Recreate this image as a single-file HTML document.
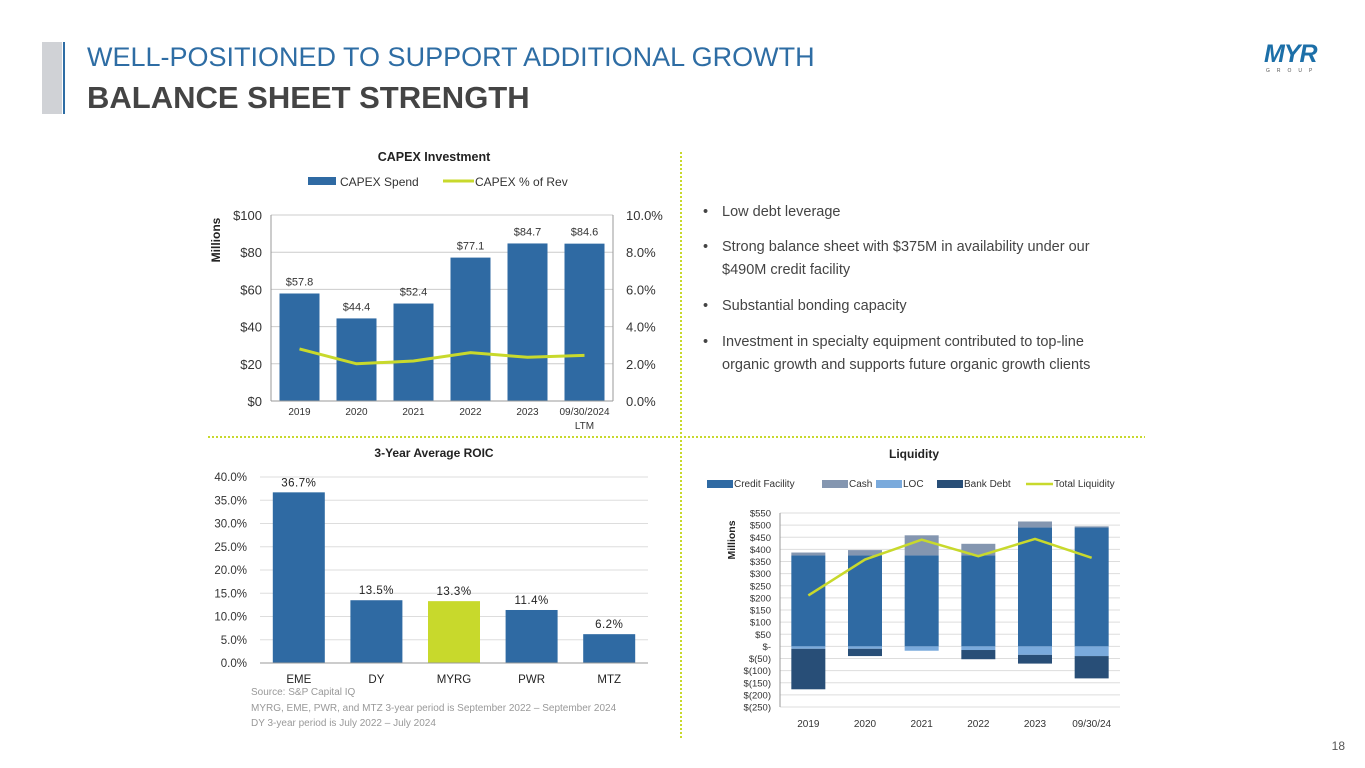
<!DOCTYPE html>
<html><head><meta charset="utf-8"><style>
body{margin:0;width:1365px;height:768px;background:#fff;font-family:"Liberation Sans",sans-serif;overflow:hidden;position:relative}
svg{position:absolute;left:0;top:0}
</style></head><body>
<svg id="s" width="1365" height="768" viewBox="0 0 1365 768" font-family="Liberation Sans, sans-serif">
<rect x="42" y="42" width="20" height="72" fill="#d0d2d6"/>
<line x1="64" y1="42" x2="64" y2="114" stroke="#2e6da4" stroke-width="2"/>
<text x="87" y="66" font-size="27" fill="#2e6da4">WELL-POSITIONED TO SUPPORT ADDITIONAL GROWTH</text>
<text x="87" y="108" font-size="31" font-weight="bold" fill="#444">BALANCE SHEET STRENGTH</text>
<g>
<text x="1264" y="62" font-size="25" font-weight="bold" fill="#1c6fa8" font-style="italic" letter-spacing="-1">MYR</text>
<text x="1266" y="72" font-size="5" fill="#555" letter-spacing="7">GROUP</text>
</g>
<text x="1345" y="750" font-size="12" fill="#555" text-anchor="end">18</text>
<line x1="681" y1="152" x2="681" y2="738" stroke="#c8d92c" stroke-width="2" stroke-dasharray="2,2"/>
<line x1="208" y1="437" x2="1145" y2="437" stroke="#c8d92c" stroke-width="2" stroke-dasharray="2,2"/>
<g font-size="14.5" fill="#444">
<text x="703" y="216">•</text><text x="722" y="216">Low debt leverage</text>
<text x="703" y="251">•</text><text x="722" y="251">Strong balance sheet with $375M in availability under our</text><text x="722" y="274">$490M credit facility</text>
<text x="703" y="310">•</text><text x="722" y="310">Substantial bonding capacity</text>
<text x="703" y="346">•</text><text x="722" y="346">Investment in specialty equipment contributed to top-line</text><text x="722" y="369">organic growth and supports future organic growth clients</text>
</g>
<g id="capex"></g><g id="roic"></g><g id="liq"></g>
<g font-size="10" fill="#999">
<text x="251" y="695">Source: S&amp;P Capital IQ</text>
<text x="251" y="711">MYRG, EME, PWR, and MTZ 3-year period is September 2022 – September 2024</text>
<text x="251" y="726">DY 3-year period is July 2022 – July 2024</text>
</g>
</svg>
<script>
const capexCats=["2019","2020","2021","2022","2023","09/30/2024"];
const capexSpend=[57.8,44.4,52.4,77.1,84.7,84.6];
const capexPct=[2.8,2.0,2.15,2.6,2.35,2.45];
const capexTicks=[0,20,40,60,80,100];
const roicCats=["EME","DY","MYRG","PWR","MTZ"];
const roicVals=[36.7,13.5,13.3,11.4,6.2];
const roicTicks=[0,5,10,15,20,25,30,35,40];
const liqCats=["2019","2020","2021","2022","2023","09/30/24"];
const liqCredit=[375,375,375,375,490,490];
const liqCash=[12,22,83,48,25,5];
const liqLOC=[-10,-10,-18,-15,-35,-40];
const liqBank=[-167,-30,0,-38,-36,-92];
const liqTotal=[210,358,440,372,443,365];
const liqTicks=[550,500,450,400,350,300,250,200,150,100,50,0,-50,-100,-150,-200,-250];
const NS="http://www.w3.org/2000/svg";
function el(p,t,a,txt){const e=document.createElementNS(NS,t);for(const k in a)e.setAttribute(k,a[k]);if(txt!==undefined)e.textContent=txt;p.appendChild(e);return e;}
const BLUE="#2f6aa3",LIME="#c8d92c";
// CAPEX
(function(){
const g=document.getElementById('capex');
const x0=271,x1=613,y0=401,y1=215,n=capexCats.length,bw=(x1-x0)/n;
const y=v=>y0-(v/100)*(y0-y1), yp=v=>y0-(v/10)*(y0-y1), xc=i=>x0+bw*(i+.5);
let t=el(g,'text',{x:434,y:161,'font-size':12.5,'font-weight':'bold','text-anchor':'middle',fill:'#222'},'CAPEX Investment');

let r=el(g,'rect',{x:308,y:177,width:28,height:8,fill:BLUE});
el(g,'text',{x:340,y:186,'font-size':12,fill:'#333'},'CAPEX Spend');
let l=el(g,'line',{x1:443,y1:181,x2:474,y2:181,stroke:LIME,'stroke-width':3});
el(g,'text',{x:475,y:186,'font-size':12,fill:'#333'},'CAPEX % of Rev');
capexTicks.forEach(v=>{
 el(g,'line',{x1:x0,x2:x1,y1:y(v),y2:y(v),stroke:'#ccc'});
 let a=el(g,'text',{x:x0-9,y:y(v)+5,'font-size':13,'text-anchor':'end',fill:'#333'},'$'+v);
 let b=el(g,'text',{x:x1+13,y:y(v)+5,'font-size':13,fill:'#333'},(v/10).toFixed(1)+'%');
});
let yt=el(g,'text',{x:0,y:0,'font-size':12,'font-weight':'bold',fill:'#222','text-anchor':'middle',transform:'translate(220,240) rotate(-90)'},'Millions');

capexSpend.forEach((v,i)=>{
 let b=el(g,'rect',{x:xc(i)-20,y:y(v),width:40,height:y0-y(v),fill:BLUE});
 el(g,'text',{x:xc(i),y:y(v)-8,'font-size':11,'text-anchor':'middle',fill:'#333'},'$'+v.toFixed(1));
 el(g,'text',{x:xc(i),y:y0+14,'font-size':10,'text-anchor':'middle',fill:'#333'},capexCats[i]);
});
el(g,'text',{x:xc(5),y:y0+28,'font-size':10,'text-anchor':'middle',fill:'#333'},'LTM');
el(g,'line',{x1:x0,x2:x0,y1:y1,y2:y0,stroke:'#999'});el(g,'line',{x1:x1,x2:x1,y1:y1,y2:y0,stroke:'#999'});el(g,'line',{x1:x0,x2:x1,y1:y0,y2:y0,stroke:'#999'});
let p=el(g,'polyline',{points:capexPct.map((v,i)=>xc(i)+','+yp(v)).join(' '),fill:'none',stroke:LIME,'stroke-width':3});

})();
// ROIC
(function(){
const g=document.getElementById('roic');
const x0=260,x1=648,y0=663,y1=477,n=roicCats.length,bw=(x1-x0)/n;
const y=v=>y0-(v/40)*(y0-y1), xc=i=>x0+bw*(i+.5);
let t=el(g,'text',{x:434,y:457,'font-size':12,'font-weight':'bold','text-anchor':'middle',fill:'#222'},'3-Year Average ROIC');

roicTicks.forEach(v=>{
 el(g,'line',{x1:x0,x2:x1,y1:y(v),y2:y(v),stroke:'#ddd'});
 let a=el(g,'text',{x:x0-13,y:y(v)+4,'font-size':11.5,'text-anchor':'end',fill:'#333'},v.toFixed(1)+'%');
});
roicVals.forEach((v,i)=>{
 let b=el(g,'rect',{x:xc(i)-26,y:y(v),width:52,height:y0-y(v),fill:roicCats[i]==='MYRG'?LIME:BLUE});
 el(g,'text',{x:xc(i),y:y(v)-6,'font-size':11.5,'text-anchor':'middle',fill:'#222','letter-spacing':'0.5'},v.toFixed(1)+'%');
 el(g,'text',{x:xc(i),y:y0+20,'font-size':11.5,'text-anchor':'middle',fill:'#222'},roicCats[i]);
});
el(g,'line',{x1:x0,x2:x1,y1:y0,y2:y0,stroke:'#999'});
})();
// Liquidity
(function(){
const g=document.getElementById('liq');
const x0=780,x1=1120,yTop=513,yBot=707,n=liqCats.length,bw=(x1-x0)/n;
const y=v=>yTop+(550-v)/800*(yBot-yTop), xc=i=>x0+bw*(i+.5);
let t=el(g,'text',{x:914,y:458,'font-size':12,'font-weight':'bold','text-anchor':'middle',fill:'#222'},'Liquidity');

const leg=[["Credit Facility",BLUE,707],["Cash","#8496b0",822],["LOC","#7aaadc",876],["Bank Debt","#284e77",937]];
leg.forEach(d=>{let r=el(g,'rect',{x:d[2],y:480,width:26,height:8,fill:d[1]});
 el(g,'text',{x:d[2]+27,y:487,'font-size':10,fill:'#333'},d[0]);});
let ll=el(g,'line',{x1:1026,y1:484,x2:1053,y2:484,stroke:LIME,'stroke-width':2.5});
el(g,'text',{x:1054,y:487,'font-size':10,fill:'#333'},'Total Liquidity');
liqTicks.forEach(v=>{
 el(g,'line',{x1:x0,x2:x1,y1:y(v),y2:y(v),stroke:'#ddd'});
 const s=v===0?'$-':(v<0?'$('+(-v)+')':'$'+v);
 let a=el(g,'text',{x:x0-9,y:y(v)+3.5,'font-size':9.5,'text-anchor':'end',fill:'#333'},s);
});
let yt=el(g,'text',{x:0,y:0,'font-size':10.5,'font-weight':'bold',fill:'#222','text-anchor':'middle',transform:'translate(735,540) rotate(-90)'},'Millions');

const w=34;
liqCats.forEach((c,i)=>{
 const X=xc(i)-w/2;
 let a=el(g,'rect',{x:X,y:y(liqCredit[i]),width:w,height:y(0)-y(liqCredit[i]),fill:BLUE});
 let b=el(g,'rect',{x:X,y:y(liqCredit[i]+liqCash[i]),width:w,height:y(liqCredit[i])-y(liqCredit[i]+liqCash[i]),fill:'#8496b0'});
 let d=el(g,'rect',{x:X,y:y(0),width:w,height:y(liqLOC[i])-y(0),fill:'#7aaadc'});
 let e=el(g,'rect',{x:X,y:y(liqLOC[i]),width:w,height:y(liqLOC[i]+liqBank[i])-y(liqLOC[i]),fill:'#284e77'});
 el(g,'text',{x:xc(i),y:yBot+20,'font-size':10,'text-anchor':'middle',fill:'#333'},c);
});
el(g,'line',{x1:x0,x2:x0,y1:yTop,y2:yBot,stroke:'#999'});
let p=el(g,'polyline',{points:liqTotal.map((v,i)=>xc(i)+','+y(v)).join(' '),fill:'none',stroke:LIME,'stroke-width':2.5});

})();
</script>
</body></html>
